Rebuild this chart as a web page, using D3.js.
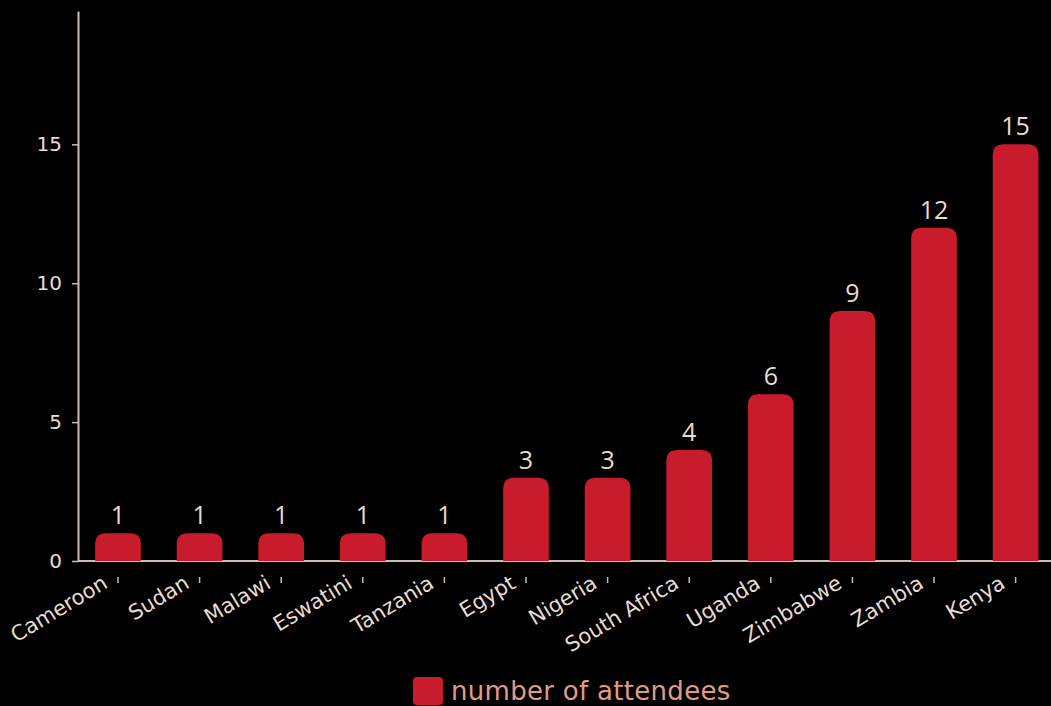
<!DOCTYPE html>
<html><head><meta charset="utf-8">
<script src="https://cdn.jsdelivr.net/npm/d3@7"></script>
<style>
html,body{margin:0;padding:0;background:#000;}
svg{display:block;}
</style></head>
<body>
<svg id="chart" width="1051" height="706"></svg>
<script>
const categories = ["Cameroon","Sudan","Malawi","Eswatini","Tanzania","Egypt","Nigeria","South Africa","Uganda","Zimbabwe","Zambia","Kenya"];
const attendees = [1,1,1,1,1,3,3,4,6,9,12,15];
const yTicks = [0,5,10,15];
const seriesName = "number of attendees";

const svg = d3.select("#chart");
const W = 1051, H = 706;
svg.append("rect").attr("width",W).attr("height",H).attr("fill","#000");

const x0 = 78, baseY = 561;
const x = d3.scaleBand().domain(categories).range([x0, 1055.6]).paddingInner(0.44).paddingOuter(0.21);
const y = d3.scaleLinear().domain([0, 19.8]).range([baseY, 11]);

const axisCol = "#cbbcb4", textCol = "#eadbd0", barCol = "#c81b2c";
const font = "'Open Sans', sans-serif";
const wideFont = "'DejaVu Sans', sans-serif";

// y axis
const gy = svg.append("g").attr("transform", `translate(${x0},0)`)
  .call(d3.axisLeft(y).tickValues(yTicks).tickSize(6).tickPadding(10).tickSizeOuter(0));
gy.attr("font-size", 20).attr("font-family", wideFont);
gy.select(".domain").attr("stroke", axisCol).attr("stroke-width", 2);
gy.selectAll(".tick line").attr("stroke", axisCol).attr("stroke-width", 1.5);
gy.selectAll(".tick text").attr("fill", textCol).style("font-family", wideFont).style("font-size","20px");

// x axis
const gx = svg.append("g").attr("transform", `translate(0,${baseY})`)
  .call(d3.axisBottom(x).tickSize(0).tickSizeOuter(0));
gx.attr("font-size", 21).attr("font-family", wideFont);
gx.select(".domain").attr("stroke", axisCol).attr("stroke-width", 2).attr("d", `M${x0},0H${W}`);
gx.selectAll(".tick").append("line").attr("y1",16).attr("y2",22).attr("stroke",axisCol).attr("stroke-width",1.5);
gx.selectAll(".tick text")
  .attr("fill", textCol).style("font-family", wideFont).style("font-size","21px")
  .attr("text-anchor","end").attr("dy",null).attr("y",0)
  .attr("transform","translate(-9,26) rotate(-31)");

// bars with rounded tops
const r = 11;
function barPath(d, i){
  const xl = x(categories[i]), w = x.bandwidth();
  const yt = y(d), yb = y(0);
  const rr = Math.min(r, (yb-yt), w/2);
  return `M${xl},${yb}V${yt+rr}Q${xl},${yt} ${xl+rr},${yt}H${xl+w-rr}Q${xl+w},${yt} ${xl+w},${yt+rr}V${yb}Z`;
}
svg.append("g").selectAll("path").data(attendees).join("path")
  .attr("d", (d,i)=>barPath(d,i)).attr("fill", barCol);

// value labels
svg.append("g").selectAll("text").data(attendees).join("text")
  .attr("x",(d,i)=>x(categories[i]) + x.bandwidth()/2)
  .attr("y", d=>y(d)-9)
  .attr("text-anchor","middle")
  .attr("fill", textCol).style("font-family", font).style("font-size","25px")
  .text(d=>d);

// legend
const lg = svg.append("g");
lg.append("rect").attr("x",413).attr("y",677).attr("width",30).attr("height",28).attr("rx",4).attr("fill",barCol);
lg.append("text").attr("x",451).attr("y",700).attr("fill","#e39a86")
  .style("font-family",wideFont).style("font-size","26px").style("letter-spacing","0.3px").text(seriesName);
</script>
</body></html>
